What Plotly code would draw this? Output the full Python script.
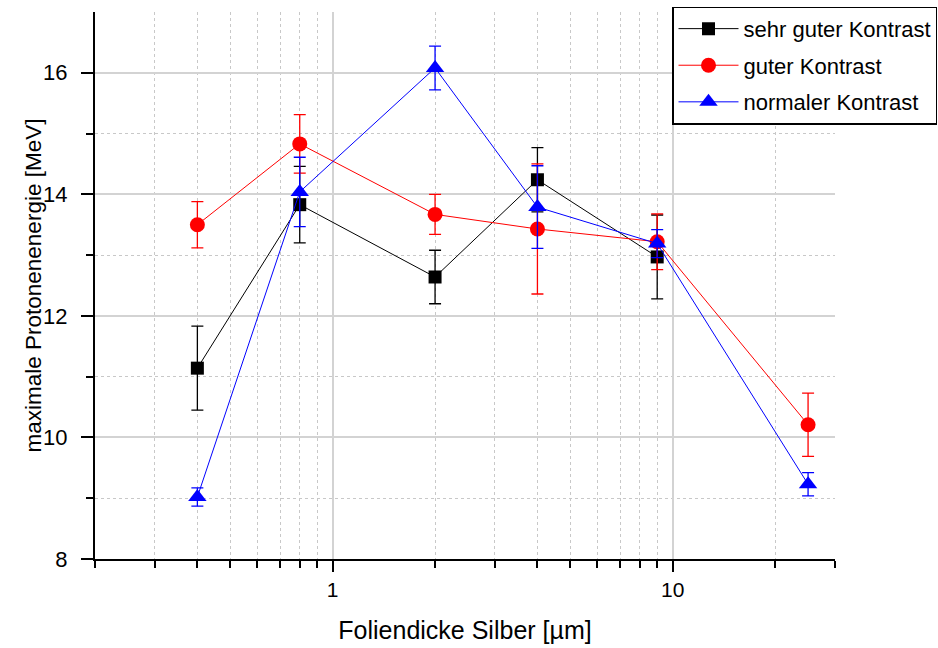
import plotly.graph_objects as go
import numpy as np

thickness = [0.4, 0.8, 2, 4, 9, 25]

sg_x = [0.4, 0.8, 2, 4, 9]
sg_y = [11.14, 13.83, 12.64, 14.24, 12.97]
sg_err = [0.69, 0.63, 0.44, 0.53, 0.69]

g_x = thickness
g_y = [13.50, 14.83, 13.67, 13.43, 13.22, 10.21]
g_err = [0.38, 0.48, 0.33, 1.07, 0.46, 0.52]

n_x = thickness
n_y = [9.02, 14.04, 16.08, 13.79, 13.19, 9.23]
n_err = [0.15, 0.57, 0.36, 0.68, 0.23, 0.19]

FONT = "Arial, Liberation Sans, sans-serif"

fig = go.Figure()

def add(x, y, err, name, color, symbol, size):
    fig.add_trace(go.Scatter(
        x=x, y=y, name=name, mode="lines+markers", legendgroup=name,
        line=dict(color=color, width=1),
        marker=dict(symbol=symbol, color=color, size=size, line=dict(width=0)),
        error_y=dict(type="data", array=err, visible=True, color=color,
                     thickness=1.3, width=6),
    ))

add(sg_x, sg_y, sg_err, "sehr guter Kontrast", "black", "square", 13)
add(g_x, g_y, g_err, "guter Kontrast", "#ff0000", "circle", 15)
add(n_x, n_y, n_err, "normaler Kontrast", "#0000ff", "triangle-up", 16)

fig.update_layout(
    width=938, height=648,
    margin=dict(l=95, r=103, t=12, b=89, autoexpand=False),
    paper_bgcolor="white", plot_bgcolor="white",
    font=dict(family=FONT, color="black", size=18),
    showlegend=True,
    legend=dict(
        x=0.78, y=1.01, xanchor="left", yanchor="top",
        bordercolor="black", borderwidth=1.3, bgcolor="white",
        font=dict(size=22, family=FONT), tracegroupgap=5, itemwidth=60,
    ),
    xaxis=dict(
        type="log", range=[np.log10(0.2), np.log10(30)],
        tickvals=[1, 10], ticktext=["1", "10"],
        ticks="outside", ticklen=11, tickwidth=1.5, tickcolor="black",
        showline=True, linecolor="black", linewidth=2,
        showgrid=True, gridcolor="#d3d3d3", gridwidth=1.5,
        zeroline=False, automargin=False,
        tickfont=dict(size=21, family=FONT),
        title=dict(text="Foliendicke Silber [µm]", font=dict(size=25), standoff=21),
        minor=dict(
            tickvals=[0.2, 0.3, 0.4, 0.5, 0.6, 0.7, 0.8, 0.9, 2, 3, 4, 5, 6, 7, 8, 9, 20, 30],
            ticks="outside", ticklen=7, tickwidth=1.5, tickcolor="black",
            showgrid=True, gridcolor="#c8c8c8", griddash="dot", gridwidth=1,
        ),
    ),
    yaxis=dict(
        range=[8, 17],
        tickvals=[8, 10, 12, 14, 16],
        ticks="outside", ticklen=12, tickwidth=1.5, tickcolor="black",
        showline=True, linecolor="black", linewidth=2,
        showgrid=True, gridcolor="#d3d3d3", gridwidth=1.5,
        zeroline=False, automargin=False,
        tickfont=dict(size=22, family=FONT), ticklabelstandoff=9,
        minor=dict(
            tickvals=[9, 11, 13, 15],
            ticks="outside", ticklen=7, tickwidth=1.5, tickcolor="black",
            showgrid=True, gridcolor="#c8c8c8", griddash="dot", gridwidth=1,
        ),
    ),
    annotations=[dict(
        text="maximale Protonenenergie [MeV]", textangle=-90,
        xref="paper", yref="paper", x=(33 - 95) / 740, y=0.5,
        xanchor="center", yanchor="middle", showarrow=False,
        font=dict(size=22.5, family=FONT, color="black"),
    )],
)

fig.write_html("out.html")
